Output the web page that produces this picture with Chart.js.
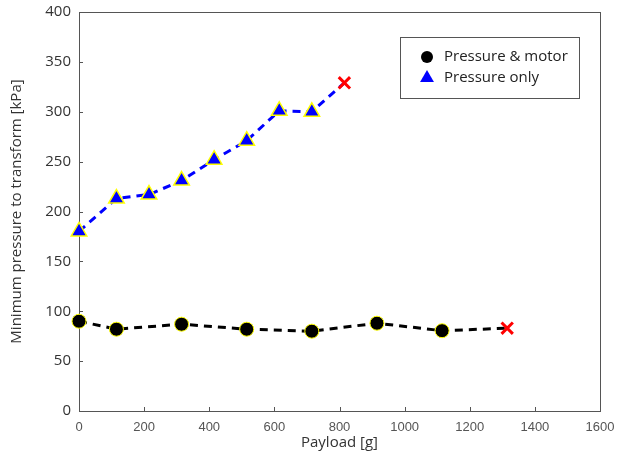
<!DOCTYPE html>
<html>
<head>
<meta charset="utf-8">
<script src="https://cdn.jsdelivr.net/npm/chart.js@4/dist/chart.umd.min.js"></script>
<style>
  html, body { margin: 0; padding: 0; background: #fff; }
  #wrap { width: 627px; height: 462px; }
</style>
</head>
<body>
<div id="wrap"><canvas id="pressureChart"></canvas></div>
<script>
// Pressure & motor (black circles), last point failed (red x)
const motorPayload = [0, 115, 315, 515, 715, 915, 1115];
const motorPressure = [90, 82, 87, 82, 80, 88, 80.5];
const motorFailPayload = 1315;
const motorFailPressure = 83;

// Pressure only (blue triangles)
const onlyPayload = [0, 115, 215, 315, 415, 515, 615, 715];
const onlyPressure = [180, 213, 217, 231, 252, 271, 301, 300];
const onlyFailPayload = 815;
const onlyFailPressure = 329;

const legendLabels = ['Pressure & motor', 'Pressure only'];
const xTicks = [0, 200, 400, 600, 800, 1000, 1200, 1400, 1600];
const yTicks = [0, 50, 100, 150, 200, 250, 300, 350, 400];

const frameColor = '#555';

function buildSeries(xs, ys, failX, failY) {
  const pts = xs.map((x, i) => ({ x, y: ys[i] }));
  pts.push({ x: failX, y: failY });
  return pts;
}

function perPoint(n, normal, last) {
  const arr = new Array(n).fill(normal);
  arr.push(last);
  return arr;
}

const frameTicks = {
  id: 'frameTicks',
  beforeDatasetsDraw(chart) {
    const { ctx, chartArea: a, scales } = chart;
    ctx.save();
    ctx.strokeStyle = frameColor;
    ctx.lineWidth = 1;
    ctx.strokeRect(a.left + 0.5, a.top + 0.5, a.right - a.left, a.bottom - a.top);
    ctx.beginPath();
    xTicks.forEach((v) => {
      const px = Math.round(scales.x.getPixelForValue(v)) + 0.5;
      ctx.moveTo(px, a.bottom);
      ctx.lineTo(px, a.bottom - 4);
    });
    yTicks.forEach((v) => {
      const py = Math.round(scales.y.getPixelForValue(v)) + 0.5;
      ctx.moveTo(a.left, py);
      ctx.lineTo(a.left + 4, py);
    });
    ctx.stroke();
    ctx.restore();
  },
};

const boxLegend = {
  id: 'boxLegend',
  afterDraw(chart) {
    const { ctx } = chart;
    const left = 400, top = 37, w = 179, h = 61;
    ctx.save();
    ctx.fillStyle = '#fff';
    ctx.fillRect(left, top, w, h);
    ctx.strokeStyle = frameColor;
    ctx.lineWidth = 1;
    ctx.strokeRect(left + 0.5, top + 0.5, w, h);
    const marks = [
      { style: 'circle', color: '#000', r: 6, y: 57 },
      { style: 'triangle', color: '#0000ff', r: 8, y: 78 },
    ];
    marks.forEach((m, i) => {
      ctx.fillStyle = m.color;
      ctx.strokeStyle = m.color;
      Chart.helpers.drawPoint(ctx, { pointStyle: m.style, radius: m.r, borderWidth: 0, rotation: 0 }, 427, m.y);
      ctx.fillStyle = '#222';
      ctx.font = '15px "Open Sans", sans-serif';
      ctx.textBaseline = 'middle';
      ctx.textAlign = 'left';
      ctx.fillText(legendLabels[i], 444, m.y);
    });
    ctx.restore();
  },
};

const motorCount = motorPayload.length;
const onlyCount = onlyPayload.length;

new Chart(document.getElementById('pressureChart'), {
  type: 'line',
  data: {
    datasets: [
      {
        label: legendLabels[0],
        data: buildSeries(motorPayload, motorPressure, motorFailPayload, motorFailPressure),
        borderColor: '#000',
        borderWidth: 3,
        borderDash: [8, 6],
        fill: false,
        tension: 0,
        clip: false,
        pointStyle: perPoint(motorCount, 'circle', 'crossRot'),
        pointRadius: perPoint(motorCount, 7, 8),
        pointBackgroundColor: perPoint(motorCount, '#000', '#ff0000'),
        pointBorderColor: perPoint(motorCount, '#ffff00', '#ff0000'),
        pointBorderWidth: perPoint(motorCount, 1, 3),
      },
      {
        label: legendLabels[1],
        data: buildSeries(onlyPayload, onlyPressure, onlyFailPayload, onlyFailPressure),
        borderColor: '#0000ff',
        borderWidth: 3,
        borderDash: [8, 6],
        fill: false,
        tension: 0,
        clip: false,
        pointStyle: perPoint(onlyCount, 'triangle', 'crossRot'),
        pointRadius: perPoint(onlyCount, 9, 8),
        pointBackgroundColor: perPoint(onlyCount, '#0000ff', '#ff0000'),
        pointBorderColor: perPoint(onlyCount, '#ffff00', '#ff0000'),
        pointBorderWidth: perPoint(onlyCount, 1.5, 3),
      },
    ],
  },
  options: {
    responsive: true,
    maintainAspectRatio: false,
    animation: false,
    layout: { padding: { left: 0, right: 27, top: 12, bottom: 0 } },
    plugins: { legend: { display: false }, tooltip: { enabled: false } },
    scales: {
      x: {
        type: 'linear',
        min: 0,
        max: 1600,
        afterBuildTicks(scale) { scale.ticks = xTicks.map((v) => ({ value: v })); },
        afterFit(scale) {
          scale.height = 51;
          scale.paddingLeft = 0;
          scale.paddingRight = 0;
        },
        grid: { display: false, drawTicks: false },
        border: { display: false },
        ticks: {
          padding: 9,
          maxRotation: 0,
          color: '#555',
          font: { family: '"Liberation Sans", Arial, sans-serif', size: 13 },
          callback: (value) => String(value),
        },
        title: {
          display: true,
          text: 'Payload [g]',
          color: '#333',
          font: { family: '"Open Sans", sans-serif', size: 15 },
          padding: { top: 0, bottom: 10 },
        },
      },
      y: {
        type: 'linear',
        min: 0,
        max: 400,
        afterBuildTicks(scale) { scale.ticks = yTicks.map((v) => ({ value: v })); },
        afterFit(scale) {
          scale.width = 79;
          scale.paddingTop = 0;
          scale.paddingBottom = 0;
        },
        grid: { display: false, drawTicks: false },
        border: { display: false },
        ticks: {
          padding: 8,
          color: '#333',
          font: { family: '"Open Sans", sans-serif', size: 15 },
        },
        title: {
          display: true,
          text: 'Minimum pressure to transform [kPa]',
          color: '#333',
          font: { family: '"Open Sans", sans-serif', size: 15 },
          padding: { top: 8, bottom: 0 },
        },
      },
    },
  },
  plugins: [frameTicks, boxLegend],
});
</script>
</body>
</html>
